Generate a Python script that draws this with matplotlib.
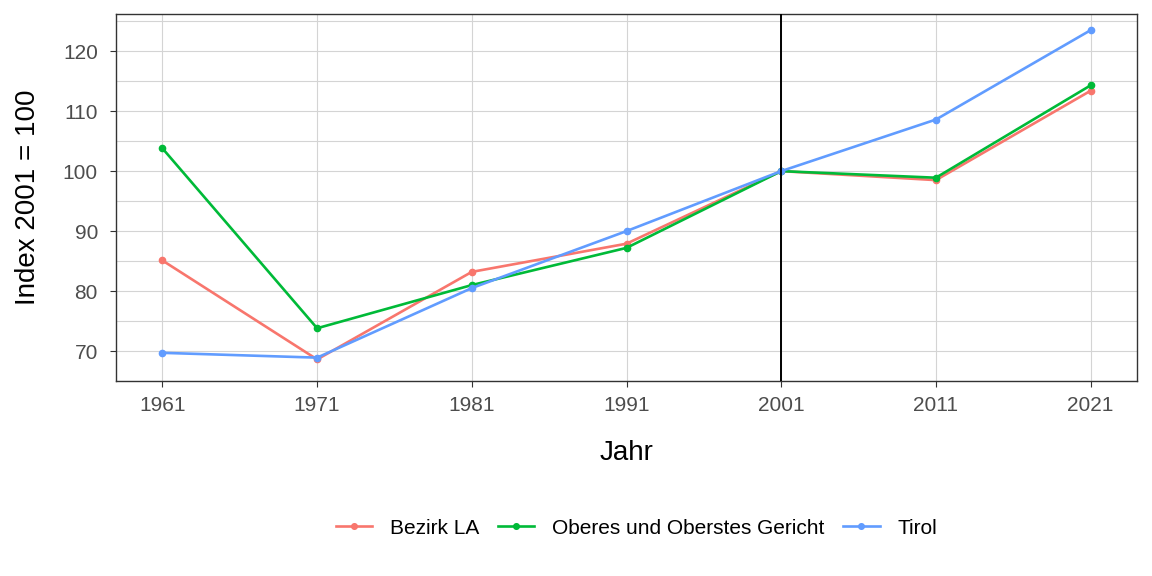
import numpy as np
import matplotlib.pyplot as plt

plt.rcParams["font.family"] = ["Liberation Sans", "DejaVu Sans"]

# data
years = [1961, 1971, 1981, 1991, 2001, 2011, 2021]
bezirk_la = [85.1, 68.6, 83.2, 87.9, 100.0, 98.5, 113.4]
oberes_gericht = [103.8, 73.8, 81.0, 87.2, 100.0, 98.9, 114.3]
tirol = [69.7, 68.9, 80.5, 90.0, 100.0, 108.6, 123.5]

series = [
    ("Bezirk LA", bezirk_la, "#F8766D"),
    ("Oberes und Oberstes Gericht", oberes_gericht, "#00BA38"),
    ("Tirol", tirol, "#619CFF"),
]

fig = plt.figure(figsize=(11.52, 5.76), dpi=100)
ax = fig.add_axes([0.1007, 0.3385, 0.8863, 0.6372])

for name, vals, col in series:
    ax.plot(years, vals, color=col, lw=1.9, marker="o", markersize=4.5,
            label=name, zorder=3)

ax.axvline(2001, color="black", lw=1.4, zorder=4)

ax.set_xlim(1958, 2024)
ax.set_ylim(65.85, 126.2)
ax.set_xticks(years)
ax.set_yticks([70, 80, 90, 100, 110, 120])
ax.set_yticks(np.arange(65, 130, 10), minor=True)
ax.grid(True, which="major", color="#d4d4d4", lw=0.8, zorder=0)
ax.grid(True, which="minor", axis="y", color="#d4d4d4", lw=0.8, zorder=0)
ax.tick_params(axis="y", which="minor", length=0)
ax.tick_params(which="major", labelsize=15, labelcolor="#4d4d4d",
               color="#333333", length=4, width=0.8)
ax.tick_params(axis="x", pad=7)
ax.tick_params(axis="y", pad=9)
for sp in ax.spines.values():
    sp.set_color("#333333")
    sp.set_linewidth(1.0)

ax.set_xlabel("Jahr", fontsize=20, labelpad=18)
ax.set_ylabel("Index 2001 = 100", fontsize=20, labelpad=16)

fig.legend(loc="center", bbox_to_anchor=(0.5525, 0.083), ncol=3, frameon=False,
           fontsize=15, handlelength=1.75, columnspacing=0.9, handletextpad=0.85,
           markerscale=0.9)

fig.savefig("out.png", dpi=100)
